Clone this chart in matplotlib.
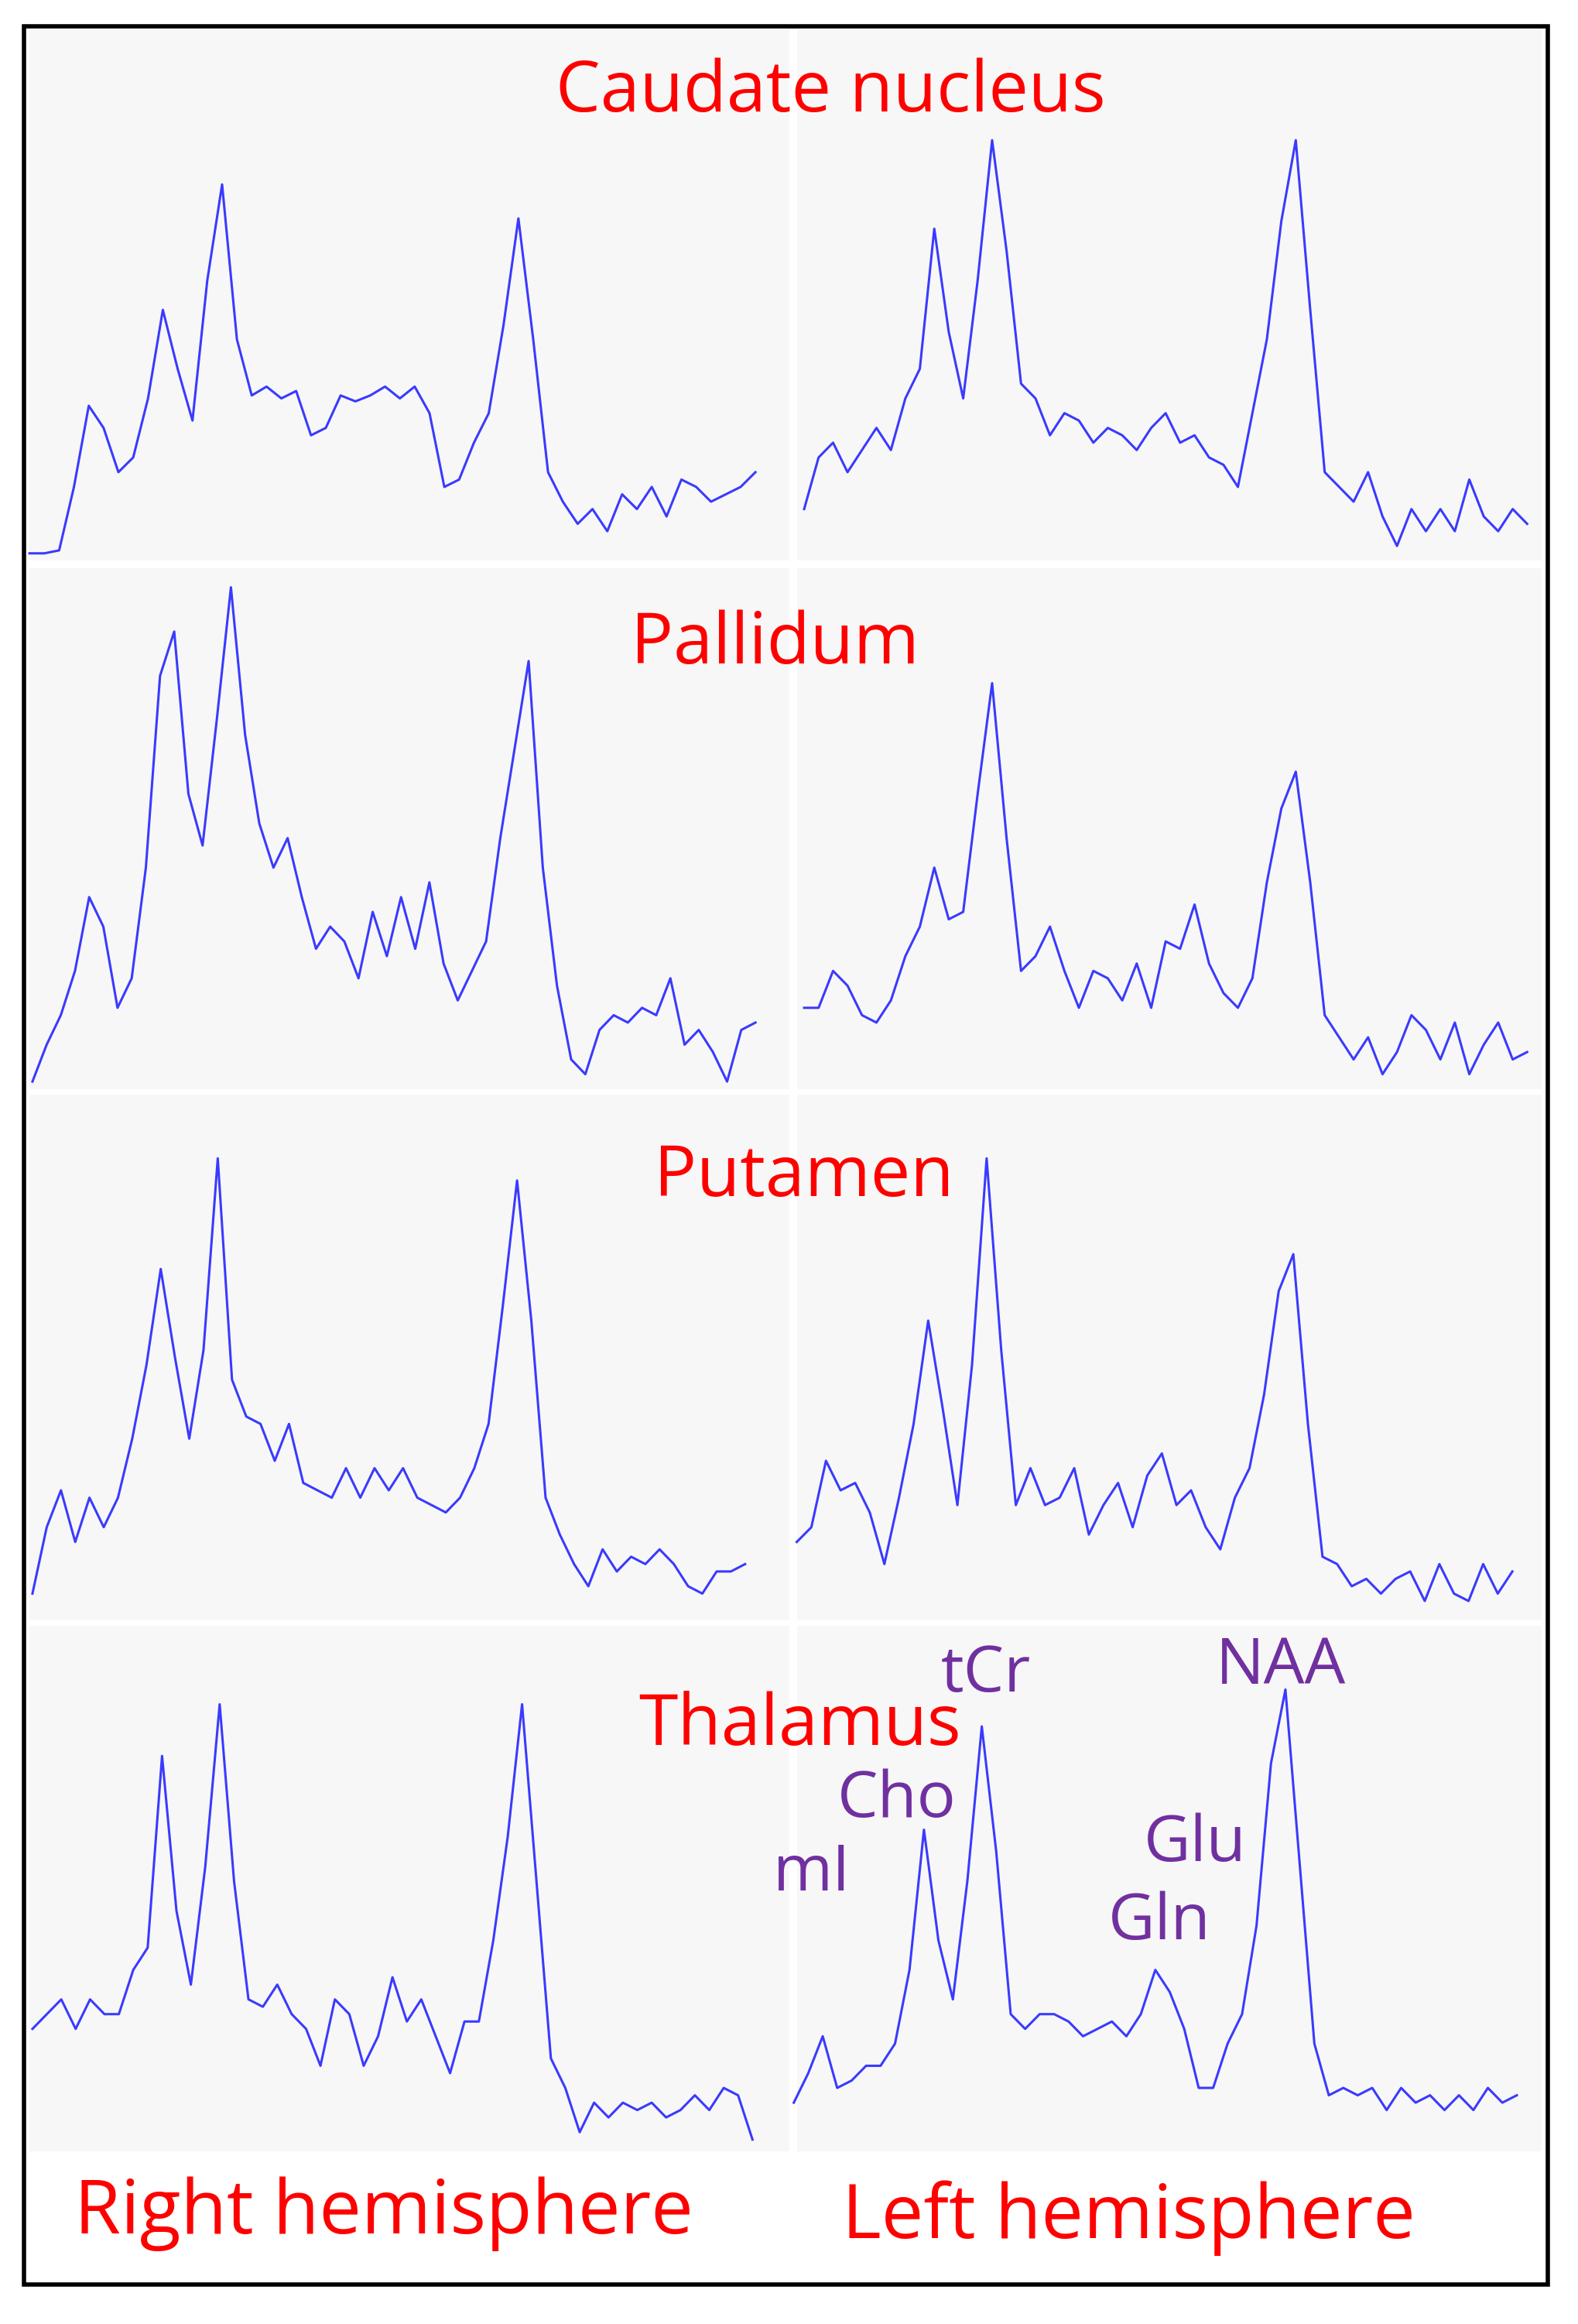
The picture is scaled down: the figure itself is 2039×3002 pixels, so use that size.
import matplotlib
matplotlib.use("Agg")
import matplotlib.pyplot as plt
import numpy as np
from matplotlib.patches import Rectangle

regions = ["Caudate nucleus", "Pallidum", "Putamen", "Thalamus"]
hemis = ["Right hemisphere", "Left hemisphere"]
metabolites = ["mI", "Cho", "tCr", "Glu", "Gln", "NAA"]

right_caudate = [5,5,7,50,105,90,60,70,110,170,130,95,190,255,150,112,118,110,115,85,90,112,108,112,118,110,118,100,50,55,80,100,160,232,150,60,40,25,35,20,45,35,50,30,55,50,40,45,50,60]
left_caudate = [35,70,80,60,75,90,75,110,130,225,155,110,190,285,210,120,110,85,100,95,80,90,85,75,90,100,80,85,70,65,50,100,150,230,285,170,60,50,40,60,30,10,35,20,35,20,55,30,20,35,25]
right_pallidum = [5,30,50,80,130,110,55,75,150,280,310,200,165,250,340,240,180,150,170,130,95,110,100,75,120,90,130,95,140,85,60,80,100,170,230,290,150,70,20,10,40,50,45,55,50,75,30,40,25,5,40,45]
left_pallidum = [55,55,80,70,50,45,60,90,110,150,115,120,200,275,170,80,90,110,80,55,80,75,60,85,55,100,95,125,85,65,55,75,140,190,215,140,50,35,20,35,10,25,50,40,20,45,10,30,45,20,25]
right_putamen = [5,50,75,40,70,50,70,110,160,225,165,110,170,300,150,125,120,95,120,80,75,70,90,70,90,75,90,70,65,60,70,90,120,200,285,190,70,45,25,10,35,20,30,25,35,25,10,5,20,20,25]
left_putamen = [50,60,105,85,90,70,35,80,130,200,140,75,170,310,180,75,100,75,80,100,55,75,90,60,95,110,75,85,60,45,80,100,150,220,245,130,40,35,20,25,15,25,30,10,35,15,10,35,15,30]
right_thalamus = [80,90,100,80,100,90,90,120,135,265,160,110,190,300,180,100,95,110,90,80,55,100,90,55,75,115,85,100,75,50,85,85,140,210,300,180,60,40,10,30,20,30,25,30,20,25,35,25,40,35,5]
left_thalamus = [30,50,75,40,45,55,55,70,120,215,140,100,180,285,200,90,80,90,90,85,75,80,85,75,90,120,105,80,40,40,70,90,150,260,310,190,70,35,40,35,40,25,40,30,35,25,35,25,40,30,35]

traces = [right_caudate, left_caudate, right_pallidum, left_pallidum,
          right_putamen, left_putamen, right_thalamus, left_thalamus]

W, H = 1070, 1575
fig = plt.figure(figsize=(20.4, 30.02), dpi=100)
ax = fig.add_axes([0, 0, 1, 1])
ax.set_xlim(0, W); ax.set_ylim(H, 0); ax.axis("off")

rows = [(20, 380), (385, 738), (742, 1098), (1102, 1458)]
cols = [(20, 535), (540, 1045)]
for (y0, y1) in rows:
    for (x0, x1) in cols:
        ax.add_patch(Rectangle((x0, y0), x1 - x0, y1 - y0, color="#f7f7f7", lw=0, zorder=0))
ax.add_patch(Rectangle((20, 1460), 1025, 85, color="white", lw=0, zorder=0))
ax.add_patch(Rectangle((16, 18), 1033, 1530, fill=False, ec="black", lw=4, zorder=5))

xranges = [(20, 512), (545, 1035), (22, 512), (545, 1035),
           (22, 505), (540, 1025), (22, 510), (538, 1028)]
bottoms = [380, 380, 738, 738, 1085, 1095, 1455, 1455]
for tr, (xa, xb), b in zip(traces, xranges, bottoms):
    v = np.array(tr, dtype=float)
    x = np.linspace(xa, xb, len(v))
    ax.plot(x, b - v, color="#3a3aff", lw=2.2, zorder=3)

font = "Open Sans"
red = "#ff0000"
title_pos = [(563, 63), (525, 437), (545, 798), (542, 1170)]
for t, (x, y) in zip(regions, title_pos):
    ax.text(x, y, t, color=red, fontsize=66, family=font, ha="center", va="center", zorder=4)
ax.text(260, 1500, hemis[0], color=red, fontsize=70, family=font, ha="center", va="center")
ax.text(765, 1503, hemis[1], color=red, fontsize=70, family=font, ha="center", va="center")

purple = "#7030a0"
mpos = [(550, 1270), (608, 1220), (668, 1135), (810, 1250), (786, 1303), (868, 1130)]
for t, (x, y) in zip(metabolites, mpos):
    ax.text(x, y, t, color=purple, fontsize=60, family=font, ha="center", va="center", zorder=4)

fig.savefig("out.png", dpi=100, facecolor="white")
